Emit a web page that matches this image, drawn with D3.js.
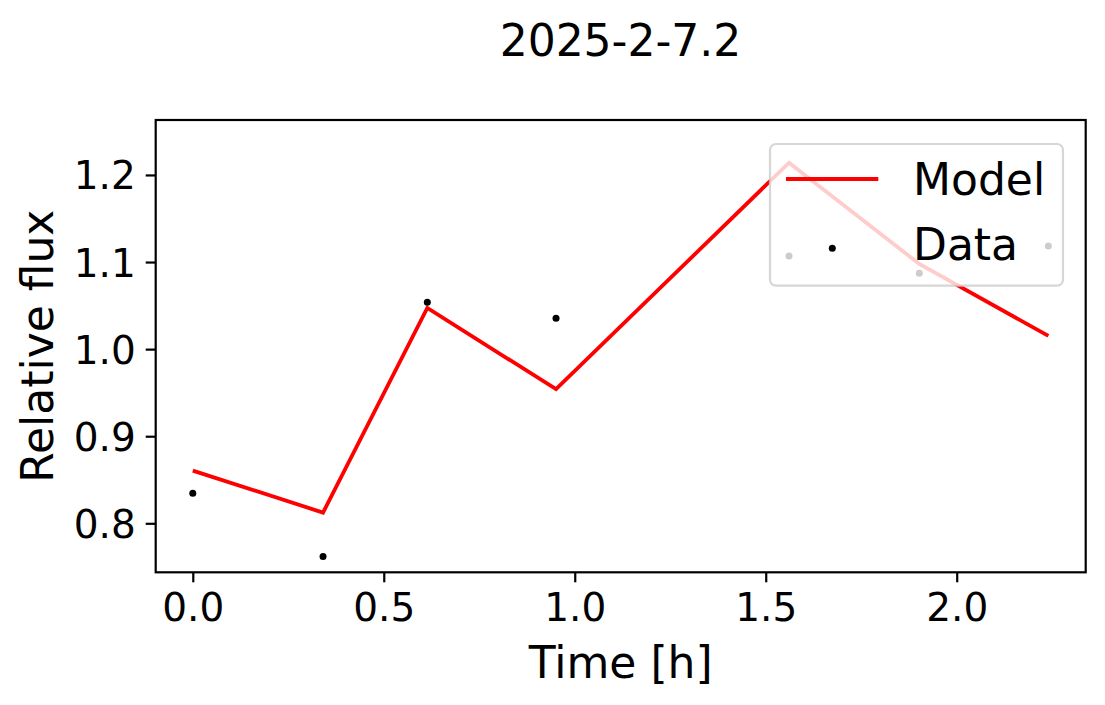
<!DOCTYPE html>
<html>
<head>
<meta charset="utf-8">
<script src="https://cdn.jsdelivr.net/npm/d3@7"></script>
<style>
  html, body { margin: 0; padding: 0; background: #fff; }
  svg { display: block; font-family: "DejaVu Sans", sans-serif; }
</style>
</head>
<body>
<svg id="chart" width="1105" height="705"></svg>
<script>
// ---- data ----
const title = "2025-2-7.2";
const xLabel = "Time [h]";
const yLabel = "Relative flux";
const timeValues  = [0.0, 0.341, 0.614, 0.951, 1.561, 1.902, 2.240];
const modelValues = [0.8605, 0.8123, 1.0473, 0.9540, 1.2141, 1.0978, 1.0152];
const dataValues  = [0.8346, 0.7618, 1.0538, 1.0355, 1.1070, 1.0871, 1.1185];
const xTicks = [0.0, 0.5, 1.0, 1.5, 2.0];
const yTicks = [0.8, 0.9, 1.0, 1.1, 1.2];
const legendLabels = ["Model", "Data"];

// ---- layout ----
const svg = d3.select("#chart");
const plot = { left: 155.7, right: 1085.7, top: 120, bottom: 572.3 };

const x = d3.scaleLinear().domain([-0.0971, 2.3377]).range([plot.left, plot.right]);
const y = d3.scaleLinear().domain([0.74374, 1.2631]).range([plot.bottom, plot.top]);

// title
svg.append("text")
  .attr("x", 620.5).attr("y", 56)
  .attr("text-anchor", "middle")
  .attr("font-size", 44)
  .text(title);

// axes
const fmt = d3.format(".1f");
const xAxis = svg.append("g")
  .attr("transform", `translate(0,${plot.bottom})`)
  .call(d3.axisBottom(x).tickValues(xTicks).tickFormat(fmt).tickSize(10).tickPadding(6));
const yAxis = svg.append("g")
  .attr("transform", `translate(${plot.left},0)`)
  .call(d3.axisLeft(y).tickValues(yTicks).tickFormat(fmt).tickSize(10).tickPadding(10));

[xAxis, yAxis].forEach(g => {
  g.select(".domain").remove();
  g.selectAll(".tick line").attr("stroke", "#000").attr("stroke-width", 2.2);
  g.selectAll(".tick text")
    .attr("fill", "#000")
    .attr("font-size", 39)
    .attr("font-family", "DejaVu Sans, sans-serif");
});
xAxis.selectAll(".tick text").attr("dy", null).attr("y", 48.5);
yAxis.selectAll(".tick text").attr("dy", "0.36em");

// axis labels
svg.append("text")
  .attr("x", (plot.left + plot.right) / 2).attr("y", 678)
  .attr("text-anchor", "middle")
  .attr("font-size", 44)
  .text(xLabel);
svg.append("text")
  .attr("transform", `translate(53,${(plot.top + plot.bottom) / 2}) rotate(-90)`)
  .attr("text-anchor", "middle")
  .attr("font-size", 44)
  .text(yLabel);

// clip
svg.append("clipPath").attr("id", "clip")
  .append("rect")
  .attr("x", plot.left).attr("y", plot.top)
  .attr("width", plot.right - plot.left).attr("height", plot.bottom - plot.top);

const g = svg.append("g").attr("clip-path", "url(#clip)");

// model line
const rows = timeValues.map((t, i) => ({ t, m: modelValues[i], d: dataValues[i] }));
g.append("path")
  .datum(rows)
  .attr("fill", "none")
  .attr("stroke", "#ff0000")
  .attr("stroke-width", 3.8)
  .attr("stroke-linejoin", "miter")
  .attr("d", d3.line().x(r => x(r.t)).y(r => y(r.m)));

// data points
g.selectAll("circle.pt")
  .data(rows)
  .join("circle")
  .attr("class", "pt")
  .attr("cx", r => x(r.t))
  .attr("cy", r => y(r.d))
  .attr("r", 3.5)
  .attr("fill", "#000");

// spines
svg.append("rect")
  .attr("x", plot.left).attr("y", plot.top)
  .attr("width", plot.right - plot.left).attr("height", plot.bottom - plot.top)
  .attr("fill", "none").attr("stroke", "#000").attr("stroke-width", 2.2);

// legend
const lg = svg.append("g");
lg.append("rect")
  .attr("x", 770).attr("y", 144)
  .attr("width", 293).attr("height", 141.7)
  .attr("rx", 6).attr("ry", 6)
  .attr("fill", "#fff").attr("fill-opacity", 0.8)
  .attr("stroke", "#cccccc").attr("stroke-opacity", 0.8)
  .attr("stroke-width", 2.2);
lg.append("line")
  .attr("x1", 786).attr("x2", 878.3)
  .attr("y1", 179).attr("y2", 179)
  .attr("stroke", "#ff0000").attr("stroke-width", 3.8);
lg.append("circle")
  .attr("cx", 832.3).attr("cy", 248.3).attr("r", 3.5).attr("fill", "#000");
lg.selectAll("text.lt")
  .data(legendLabels)
  .join("text")
  .attr("class", "lt")
  .attr("x", 913)
  .attr("y", (d, i) => i === 0 ? 195 : 260)
  .attr("font-size", 44)
  .text(d => d);
</script>
</body>
</html>
